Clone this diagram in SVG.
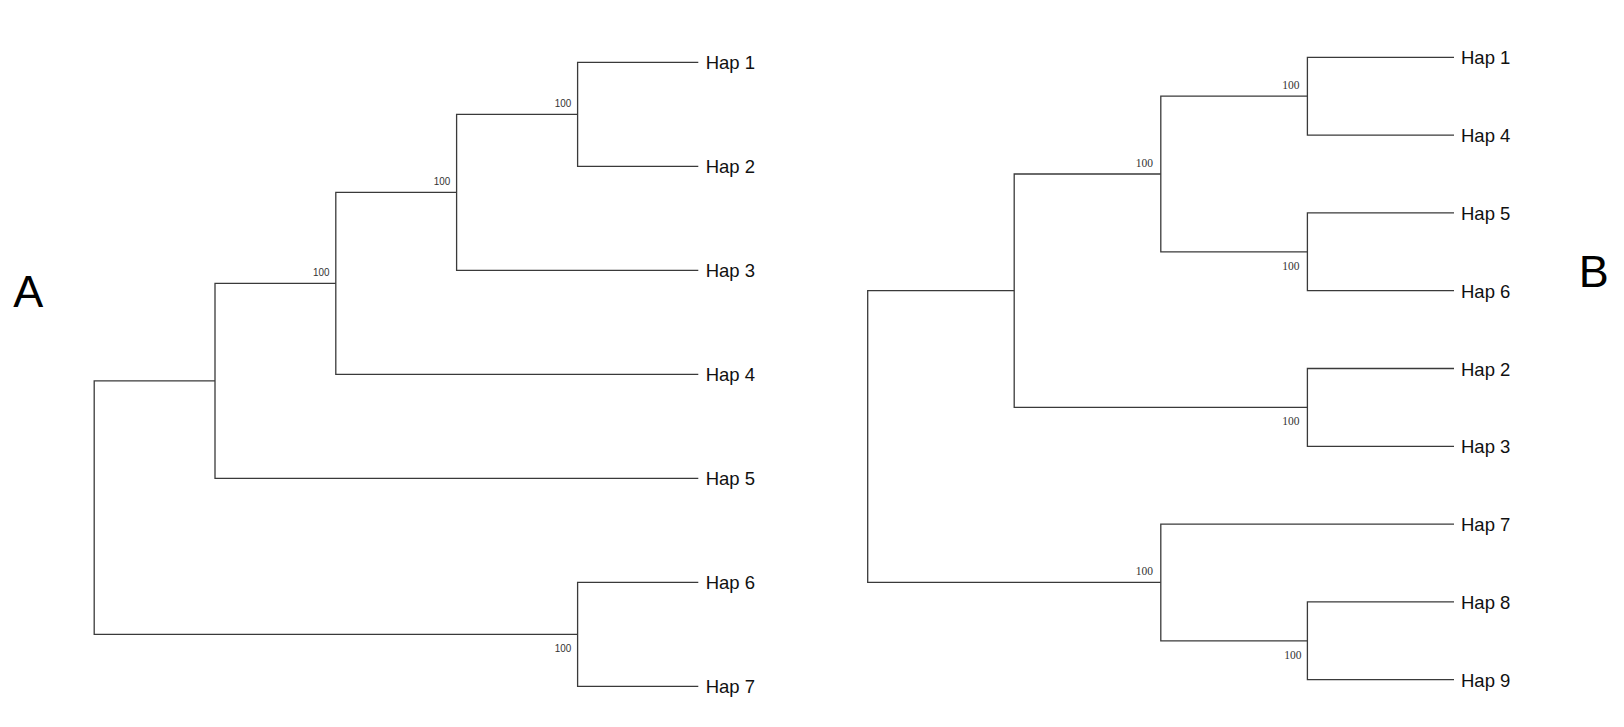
<svg xmlns="http://www.w3.org/2000/svg" width="1624" height="727" viewBox="0 0 1624 727">
<style>
.br{fill:none;stroke:#3a3a3a;stroke-width:1.3}
.leaf{font-family:"Liberation Sans",Arial,sans-serif;font-size:18.5px;fill:#111}
.bsA{font-family:"Liberation Sans",Arial,sans-serif;font-size:11px;fill:#333;text-anchor:end}
.bsB{font-family:"Liberation Serif","Times New Roman",serif;font-size:11.5px;fill:#333;text-anchor:end}
.panel{font-family:"Liberation Sans",Arial,sans-serif;font-size:45px;fill:#000}
</style>
<rect width="1624" height="727" fill="#fff"/>
<g id="connectors">
<g id="treeA-branches">
<path class="br" d="M698.3 62.3H577.6V166.3H698.3"/>
<path class="br" d="M577.6 114.3H456.6V270.3H698.3"/>
<path class="br" d="M456.6 192.3H335.8V374.3H698.3"/>
<path class="br" d="M335.8 283.3H215V478.3H698.3"/>
<path class="br" d="M215 380.8H94.2V634.3H577.6"/>
<path class="br" d="M698.3 582.3H577.6V686.3H698.3"/>
</g>
<g id="treeB-branches">
<path class="br" d="M1454 57.3H1307.4V135.1H1454"/>
<path class="br" d="M1454 212.9H1307.4V290.7H1454"/>
<path class="br" d="M1307.4 96.2H1160.8V251.8H1307.4"/>
<path class="br" d="M1454 368.5H1307.4V446.3H1454"/>
<path class="br" d="M1160.8 174H1014.2V407.4H1307.4"/>
<path class="br" d="M1454 601.9H1307.4V679.7H1454"/>
<path class="br" d="M1454 524.1H1160.8V640.8H1307.4"/>
<path class="br" d="M1014.2 290.7H867.7V582.45H1160.8"/>
</g>
</g>
<g id="panel-A"><text class="panel" x="13.3" y="306.7">A</text></g>
<g id="panel-B"><text class="panel" x="1578.7" y="286.7">B</text></g>
<g id="treeA-leaves">
<g id="A-hap1"><text class="leaf" x="705.7" y="69">Hap 1</text></g>
<g id="A-hap2"><text class="leaf" x="705.7" y="173">Hap 2</text></g>
<g id="A-hap3"><text class="leaf" x="705.7" y="277">Hap 3</text></g>
<g id="A-hap4"><text class="leaf" x="705.7" y="381">Hap 4</text></g>
<g id="A-hap5"><text class="leaf" x="705.7" y="485">Hap 5</text></g>
<g id="A-hap6"><text class="leaf" x="705.7" y="589">Hap 6</text></g>
<g id="A-hap7"><text class="leaf" x="705.7" y="693">Hap 7</text></g>
</g>
<g id="treeA-nodes">
<g id="A-n12"><text class="bsA" x="571.3" y="106.7" textLength="16.5" lengthAdjust="spacingAndGlyphs">100</text></g>
<g id="A-n123"><text class="bsA" x="450.3" y="184.7" textLength="16.5" lengthAdjust="spacingAndGlyphs">100</text></g>
<g id="A-n1234"><text class="bsA" x="329.5" y="276" textLength="16.5" lengthAdjust="spacingAndGlyphs">100</text></g>
<g id="A-n67"><text class="bsA" x="571.3" y="652" textLength="16.5" lengthAdjust="spacingAndGlyphs">100</text></g>
</g>
<g id="treeB-leaves">
<g id="B-hap1"><text class="leaf" x="1461" y="64">Hap 1</text></g>
<g id="B-hap4"><text class="leaf" x="1461" y="142">Hap 4</text></g>
<g id="B-hap5"><text class="leaf" x="1461" y="220">Hap 5</text></g>
<g id="B-hap6"><text class="leaf" x="1461" y="297.7">Hap 6</text></g>
<g id="B-hap2"><text class="leaf" x="1461" y="375.5">Hap 2</text></g>
<g id="B-hap3"><text class="leaf" x="1461" y="453.3">Hap 3</text></g>
<g id="B-hap7"><text class="leaf" x="1461" y="531.1">Hap 7</text></g>
<g id="B-hap8"><text class="leaf" x="1461" y="608.9">Hap 8</text></g>
<g id="B-hap9"><text class="leaf" x="1461" y="686.7">Hap 9</text></g>
</g>
<g id="treeB-nodes">
<g id="B-n14"><text class="bsB" x="1299.4" y="89">100</text></g>
<g id="B-n1456"><text class="bsB" x="1153" y="166.8">100</text></g>
<g id="B-n56"><text class="bsB" x="1299.4" y="269.8">100</text></g>
<g id="B-n23"><text class="bsB" x="1299.4" y="425.4">100</text></g>
<g id="B-nY"><text class="bsB" x="1153" y="575.2">100</text></g>
<g id="B-n89"><text class="bsB" x="1301.4" y="658.8">100</text></g>
</g>
</svg>
